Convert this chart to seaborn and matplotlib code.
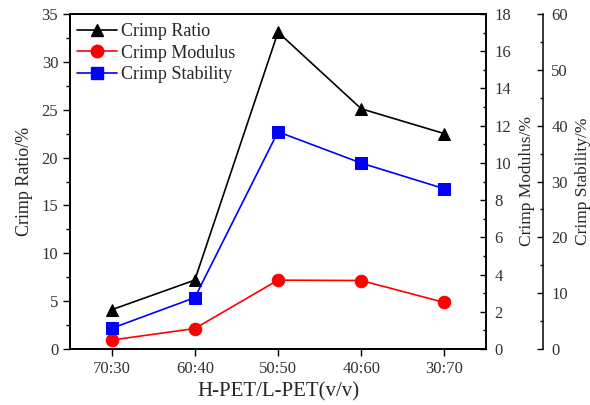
import matplotlib
matplotlib.use("Agg")
import matplotlib.pyplot as plt
import seaborn as sns
import numpy as np
from matplotlib.ticker import MultipleLocator
from matplotlib.lines import Line2D

categories = ["70:30", "60:40", "50:50", "40:60", "30:70"]
crimp_ratio = [4.1, 7.2, 33.1, 25.1, 22.5]
crimp_modulus = [0.48, 1.1, 3.7, 3.68, 2.5]
crimp_stability = [3.7, 9.2, 38.9, 33.3, 28.7]

sns.set_style("ticks")
plt.rcParams['font.family'] = ['Liberation Serif', 'DejaVu Serif']
plt.rcParams['mathtext.fontset'] = 'stix'

fig = plt.figure(figsize=(5.9, 4.05), dpi=100)
ax = fig.add_axes([70/590, 1-349/405, 416/590, 335/405])
ax2 = ax.twinx()
ax3 = ax.twinx()
ax3.spines['right'].set_position(('axes', (543-70)/416))

x = np.arange(len(categories))
lw = 1.2
sns.lineplot(x=x, y=crimp_ratio, ax=ax, color='black', marker='^', markersize=9,
             markeredgecolor='black', linewidth=lw)
sns.lineplot(x=x, y=crimp_modulus, ax=ax2, color='#ff0000', marker='o', markersize=9,
             markeredgecolor='#ff0000', linewidth=lw)
sns.lineplot(x=x, y=crimp_stability, ax=ax3, color='#0000ff', marker='s', markersize=8,
             markeredgecolor='#0000ff', linewidth=lw)

ax.set_xlim(-0.5, len(categories) - 0.5)
ax.set_xticks(x)
ax.set_xticklabels(categories)
ax.set_ylim(0, 35)
ax2.set_ylim(0, 18)
ax3.set_ylim(0, 60)
ax.yaxis.set_major_locator(MultipleLocator(5))
ax.yaxis.set_minor_locator(MultipleLocator(2.5))
ax2.yaxis.set_major_locator(MultipleLocator(2))
ax2.yaxis.set_minor_locator(MultipleLocator(1))
ax3.yaxis.set_major_locator(MultipleLocator(10))
ax3.yaxis.set_minor_locator(MultipleLocator(5))

fs = 12
ax.tick_params(axis='both', which='major', direction='out', length=5, width=1,
               labelsize=fs, color='black', labelcolor='#333333')
ax.tick_params(axis='y', which='minor', direction='out', length=3, width=1, color='black')
for a in (ax2, ax3):
    a.tick_params(axis='y', which='major', direction='in', length=4.5, width=1, pad=6,
                  labelsize=fs, color='black', labelcolor='#333333')
    a.tick_params(axis='y', which='minor', direction='in', length=2.5, width=1, color='black')
for a in (ax, ax2, ax3):
    for s in a.spines.values():
        s.set_linewidth(1.1)
        s.set_color('black')

ax.set_xlabel("H-PET/L-PET(v/v)", fontsize=15, labelpad=4)
ax.set_ylabel("Crimp Ratio/%", fontsize=13, labelpad=6)
ax2.set_ylabel("Crimp Modulus/%", fontsize=12.5, labelpad=6)
ax3.set_ylabel("Crimp Stability/%", fontsize=12.5, labelpad=5)

handles = [
    Line2D([], [], color='black', marker='^', markersize=9, linewidth=lw),
    Line2D([], [], color='#ff0000', marker='o', markersize=9, linewidth=lw),
    Line2D([], [], color='#0000ff', marker='s', markersize=8, linewidth=lw),
]
labels = ["Crimp Ratio", "Crimp Modulus", "Crimp Stability"]
for a in (ax2, ax3):
    lg = a.get_legend()
    if lg:
        lg.remove()
ax3.legend(handles, labels, loc='upper left', bbox_to_anchor=(-0.005, 1.0), frameon=False,
           fontsize=13, handlelength=2.2, handletextpad=0.25, labelspacing=0.25,
           borderaxespad=0.1)

fig.savefig("out.png", dpi=100)
